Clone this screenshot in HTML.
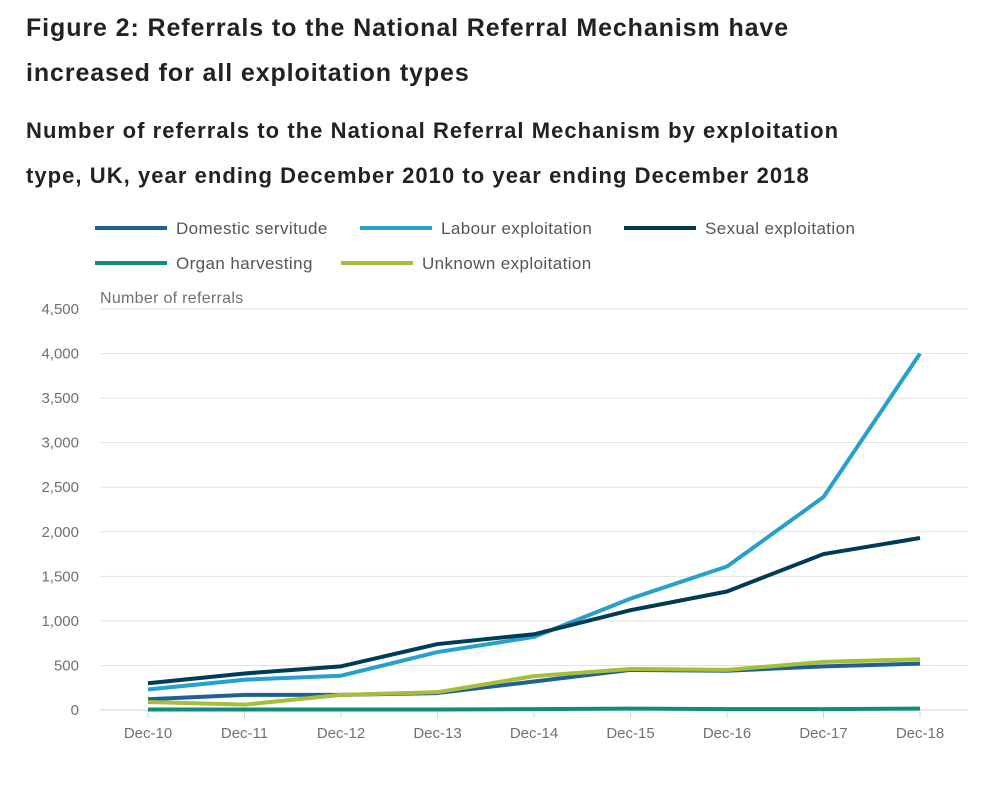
<!DOCTYPE html>
<html><head><meta charset="utf-8"><style>
body{margin:0;background:#fff;font-family:"Liberation Sans",sans-serif;color:#222}
h1{position:absolute;left:26px;top:6px;margin:0;font-size:25px;line-height:45px;font-weight:bold;white-space:nowrap;letter-spacing:0.9px}
h2{position:absolute;left:26px;top:108px;margin:0;font-size:22px;line-height:45px;font-weight:bold;white-space:nowrap;letter-spacing:1.05px}
svg{position:absolute;left:0;top:0}
</style></head><body>
<h1>Figure 2: Referrals to the National Referral Mechanism have<br>increased for all exploitation types</h1>
<h2>Number of referrals to the National Referral Mechanism by exploitation<br>type, UK, year ending December 2010 to year ending December 2018</h2>
<svg id="c" width="1002" height="788"></svg>
<script>
const categories=["Dec-10","Dec-11","Dec-12","Dec-13","Dec-14","Dec-15","Dec-16","Dec-17","Dec-18"];
const domestic=[120,170,170,190,320,450,440,490,520];
const labour=[230,340,385,650,820,1250,1610,2390,4000];
const sexual=[300,410,490,740,850,1120,1330,1750,1930];
const organ=[5,5,5,5,10,15,10,10,15];
const unknown=[90,60,170,200,380,460,450,540,570];
const yTicks=[0,500,1000,1500,2000,2500,3000,3500,4000,4500];
const seriesNames=["Domestic servitude","Labour exploitation","Sexual exploitation","Organ harvesting","Unknown exploitation"];
const seriesData=[domestic,labour,sexual,organ,unknown];
const colors=["#206095","#27a0cc","#003c57","#118c7b","#a8bd3a"];
const svg=document.getElementById('c');const NS="http://www.w3.org/2000/svg";
function el(t,a,p){const e=document.createElementNS(NS,t);for(const k in a)e.setAttribute(k,a[k]);(p||svg).appendChild(e);return e;}
const x=i=>148+i*(920-148)/(categories.length-1);
const y=v=>710-v*(710-309)/4500;
yTicks.forEach(v=>{
 const l=el('line',{x1:100,x2:968,y1:y(v),y2:y(v),stroke:v?'#e2e2e2':'#c9d4e8','stroke-width':1});
 
 const t=el('text',{x:79,y:y(v)+5,'text-anchor':'end','font-size':15,fill:'#707070'});t.textContent=v.toLocaleString('en-US');
 
});
categories.forEach((c,i)=>{
 const tk=el('line',{x1:x(i),x2:x(i),y1:710,y2:718,stroke:'#c9d4e8'});
 
 const t=el('text',{x:x(i),y:738,'text-anchor':'middle','font-size':15,fill:'#707070'});t.textContent=c;
 
});
const at=el('text',{x:100,y:303,'font-size':16,fill:'#707070','letter-spacing':0.3});at.textContent="Number of referrals";

[3,0,4,1,2].forEach(s=>{
 const p=el('polyline',{points:seriesData[s].map((v,i)=>x(i)+','+y(v)).join(' '),fill:'none',stroke:colors[s],'stroke-width':4,'stroke-linejoin':'round'});
 
 
});
const lg=[[95,228],[360,228],[624,228],[95,263],[341,263]];
seriesNames.forEach((n,s)=>{
 const g=el('g',{});
 
 el('line',{x1:lg[s][0],x2:lg[s][0]+72,y1:lg[s][1],y2:lg[s][1],stroke:colors[s],'stroke-width':4},g);
 const t=el('text',{x:lg[s][0]+81,y:lg[s][1]+6,'font-size':17,fill:'#555','letter-spacing':0.4},g);t.textContent=n;
});
</script>
</body></html>
